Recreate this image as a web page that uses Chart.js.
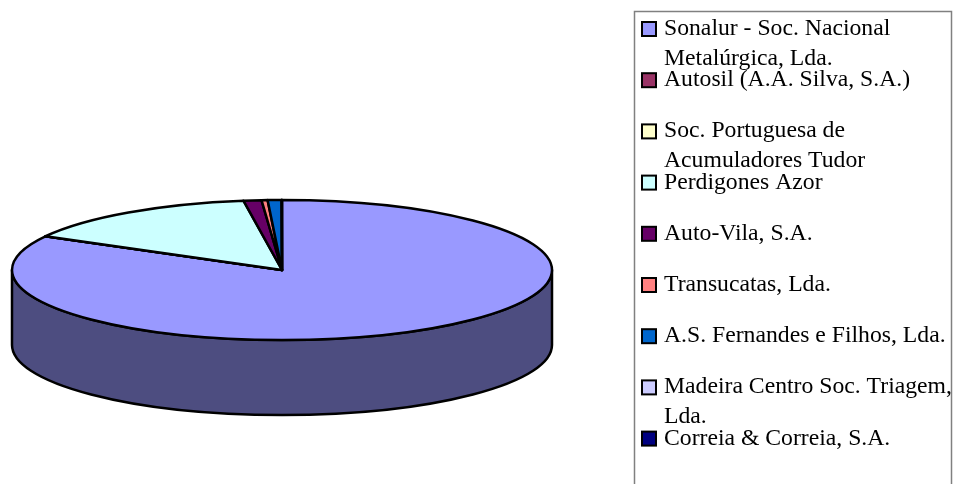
<!DOCTYPE html>
<html>
<head>
<meta charset="utf-8">
<style>
  html, body { margin: 0; background: #fff; overflow: hidden; }
  canvas { display: block; }
</style>
<script src="https://cdn.jsdelivr.net/npm/chart.js@4"></script>
</head>
<body>
<canvas id="chart" width="953" height="560"></canvas>
<script>
const companies = [
  ['Sonalur - Soc. Nacional', 'Metalúrgica, Lda.'],
  ['Autosil (A.A. Silva, S.A.)'],
  ['Soc. Portuguesa de', 'Acumuladores Tudor'],
  ['Perdigones Azor'],
  ['Auto-Vila, S.A.'],
  ['Transucatas, Lda.'],
  ['A.S. Fernandes e Filhos, Lda.'],
  ['Madeira Centro Soc. Triagem,', 'Lda.'],
  ['Correia & Correia, S.A.']
];
const shares = [83.0, 0.01, 0.01, 14.7, 1.07, 0.36, 0.83, 0.01, 0.01];
const colors = ['#9999ff', '#993366', '#ffffcc', '#ccffff', '#660066', '#ff8080', '#0066cc', '#ccccff', '#000080'];

// the top of the pie is flattened to this ratio, and the wall hangs below it
const squash = 70 / 270;
const depth = 75;

function darken(hex) {
  const n = parseInt(hex.slice(1), 16);
  return `rgb(${(n >> 16) / 2}, ${((n >> 8) & 255) / 2}, ${(n & 255) / 2})`;
}

const pie3d = {
  id: 'pie3d',
  beforeDatasetsDraw(chart) {
    const ctx = chart.ctx;
    const arcs = chart.getDatasetMeta(0).data;
    ctx.save();
    ctx.lineWidth = 2.5;
    ctx.lineJoin = 'round';
    ctx.strokeStyle = '#000';

    // wall, only the part facing the viewer
    arcs.forEach((arc, i) => {
      const a = Math.max(arc.startAngle, 0);
      const b = Math.min(arc.endAngle, Math.PI);
      if (b <= a) return;
      const r = arc.outerRadius;
      ctx.beginPath();
      ctx.ellipse(arc.x, arc.y, r, r * squash, 0, a, b);
      ctx.ellipse(arc.x, arc.y + depth, r, r * squash, 0, b, a, true);
      ctx.closePath();
      ctx.fillStyle = darken(colors[i]);
      ctx.fill();
      ctx.stroke();
    });

    // top face
    arcs.forEach((arc, i) => {
      const r = arc.outerRadius;
      ctx.beginPath();
      ctx.moveTo(arc.x, arc.y);
      ctx.ellipse(arc.x, arc.y, r, r * squash, 0, arc.startAngle, arc.endAngle);
      ctx.closePath();
      ctx.fillStyle = colors[i];
      ctx.fill();
      ctx.stroke();
    });
    ctx.restore();
    return false;
  },
  afterDraw(chart) {
    const ctx = chart.ctx;
    ctx.save();
    // legend box runs off the bottom of the page
    ctx.strokeStyle = '#808080';
    ctx.lineWidth = 1.5;
    ctx.strokeRect(634.5, 11.5, 317, 540);

    ctx.font = '23.7px "Liberation Serif"';
    ctx.textBaseline = 'alphabetic';
    ctx.textAlign = 'left';
    companies.forEach((lines, i) => {
      const y = 28 + i * 51.2;
      ctx.fillStyle = colors[i];
      ctx.fillRect(642, y - 6, 14, 14);
      ctx.strokeStyle = '#000';
      ctx.lineWidth = 2;
      ctx.strokeRect(642, y - 6, 14, 14);
      ctx.fillStyle = '#000';
      lines.forEach((line, j) => ctx.fillText(line, 664, y + 7 + j * 29.5));
    });
    ctx.restore();
  }
};

new Chart(document.getElementById('chart'), {
  type: 'pie',
  data: {
    labels: companies.map(c => c.join(' ')),
    datasets: [{ data: shares, backgroundColor: colors, borderWidth: 0 }]
  },
  options: {
    responsive: false,
    animation: false,
    layout: { padding: { left: 12, right: 401, top: 0, bottom: 20 } },
    plugins: {
      legend: { display: false },
      tooltip: { enabled: false }
    }
  },
  plugins: [pie3d]
});
</script>
</body>
</html>
